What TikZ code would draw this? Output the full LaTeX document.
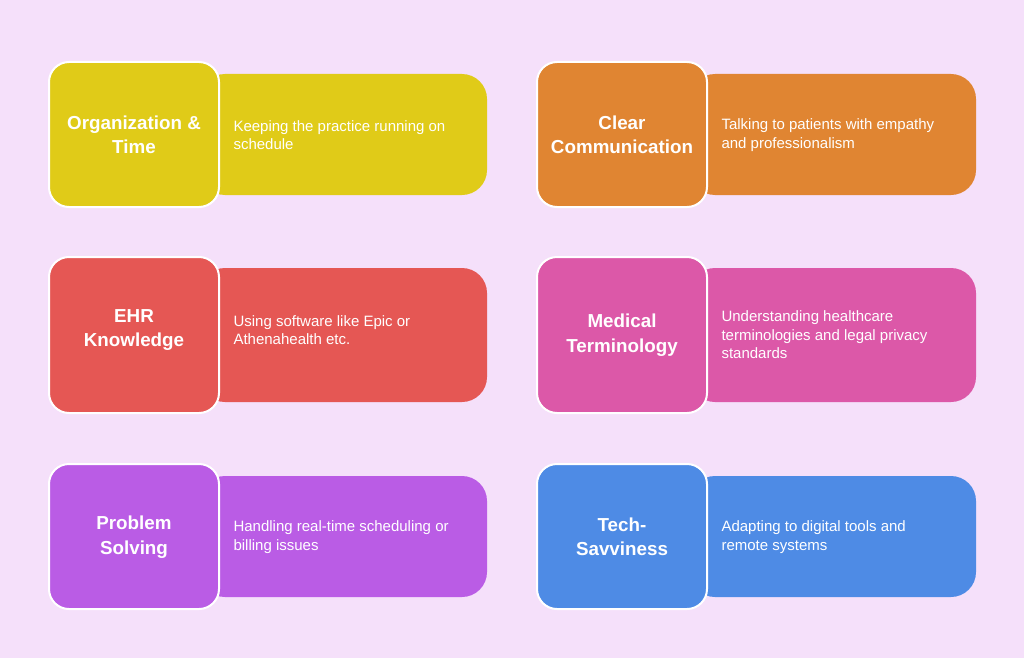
\documentclass[tikz,border=0pt]{standalone}
\usepackage{fontspec}
\setmainfont{Liberation Sans}
\usepackage{tikz}
\definecolor{bgpink}{HTML}{F5E0FA}
\definecolor{cyellow}{HTML}{E0CB18}
\definecolor{corange}{HTML}{E08532}
\definecolor{cred}{HTML}{E55754}
\definecolor{cpink}{HTML}{DC58A8}
\definecolor{cpurple}{HTML}{BA5CE5}
\definecolor{cblue}{HTML}{4E8BE5}
\tikzset{
  longbox/.style={rounded corners=25pt},
  headbox/.style={rounded corners=20pt, draw=white, line width=2pt},
  headtext/.style={text=white, font=\fontsize{18.8}{24.5}\selectfont\bfseries, align=center},
  desctext/.style={text=white, font=\fontsize{15}{18.5}\selectfont, align=left, anchor=west}
}

\begin{document}
\begin{tikzpicture}[x=1pt, y=-1pt]
    \fill[bgpink] (0,0) rectangle (1024,658);
    % left column
    \fill[longbox, cyellow] (200,74) rectangle (487,195);
    \filldraw[headbox, fill=cyellow] (49,62) rectangle (219,207);
    \node[headtext] (orgtitle) at (134,135) {Organization \&\\Time};
    \node[desctext] (orgdesc) at (230,135) {Keeping the practice running on\\schedule};

    \fill[longbox, cred] (200,268) rectangle (487,402);
    \filldraw[headbox, fill=cred] (49,257) rectangle (219,413);
    \node[headtext] (ehrtitle) at (134,330) {EHR\\Knowledge};
    \node[desctext] (ehrdesc) at (230,330) {Using software like Epic or\\Athenahealth etc.};

    \fill[longbox, cpurple] (200,476) rectangle (487,597);
    \filldraw[headbox, fill=cpurple] (49,464) rectangle (219,609);
    \node[headtext] (probtitle) at (134,537) {Problem\\Solving};
    \node[desctext] (probdesc) at (230,537) {Handling real-time scheduling or\\billing issues};

    % right column
    \fill[longbox, corange] (690,74) rectangle (976,195);
    \filldraw[headbox, fill=corange] (537,62) rectangle (707,207);
    \node[headtext] (commtitle) at (622,135) {Clear\\Communication};
    \node[desctext] (commdesc) at (718,135) {Talking to patients with empathy\\and professionalism};

    \fill[longbox, cpink] (690,268) rectangle (976,402);
    \filldraw[headbox, fill=cpink] (537,257) rectangle (707,413);
    \node[headtext] (medtitle) at (622,335) {Medical\\Terminology};
    \node[desctext] (meddesc) at (718,335) {Understanding healthcare\\terminologies and legal privacy\\standards};

    \fill[longbox, cblue] (690,476) rectangle (976,597);
    \filldraw[headbox, fill=cblue] (537,464) rectangle (707,609);
    \node[headtext] (techtitle) at (622,537) {Tech-\\Savviness};
    \node[desctext] (techdesc) at (718,537) {Adapting to digital tools and\\remote systems};
  \end{tikzpicture}
\end{document}
